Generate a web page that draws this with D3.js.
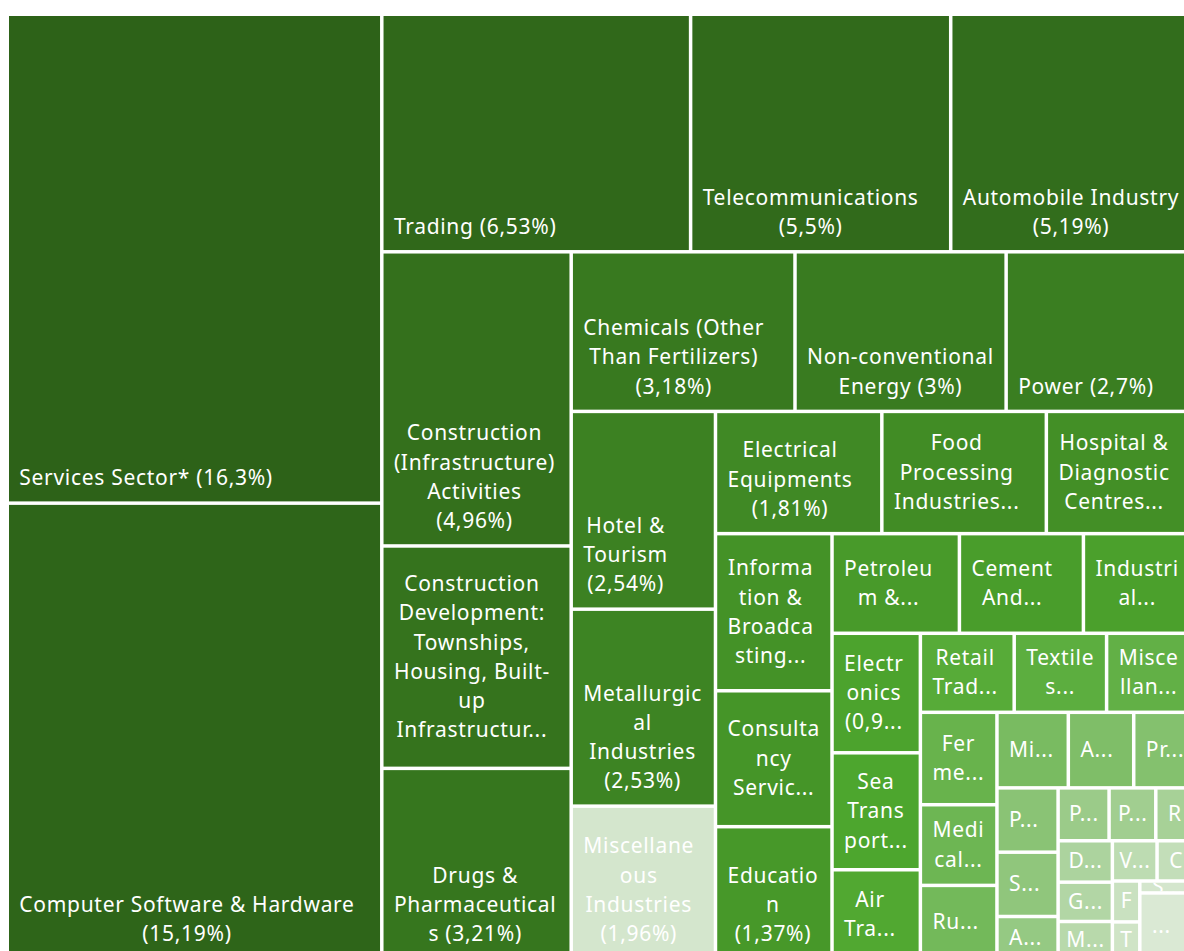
<!DOCTYPE html>
<html>
<head>
<meta charset="utf-8">
<script src="https://cdn.jsdelivr.net/npm/d3@7"></script>
<style>
  body { margin: 0; background: #fff; }
  svg { display: block; }
</style>
</head>
<body>
<svg id="chart"></svg>
<script>
// FDI equity inflows by sector, share of total (%), in the order the treemap lays them out
// ("..." is the remainder Excel shows without a name)
const sectors = [
  "Services Sector*", "Computer Software & Hardware", "Trading", "Telecommunications",
  "Automobile Industry", "Construction (Infrastructure) Activities",
  "Construction Development: Townships, Housing, Built-up Infrastructure and Construction-Development Projects",
  "Drugs & Pharmaceuticals", "Chemicals (Other Than Fertilizers)", "Non-conventional Energy", "Power",
  "Hotel & Tourism", "Metallurgical Industries", "Miscellaneous Industries",
  "Electrical Equipments", "Food Processing Industries", "Hospital & Diagnostic Centres",
  "Information & Broadcasting (Including Print Media)", "Consultancy Services", "Education",
  "Petroleum & Natural Gas", "Cement And Gypsum Products", "Industrial Machinery",
  "Electronics", "Sea Transport", "Air Transport (Including Air Freight)",
  "Retail Trading", "Textiles (Including Dyed, Printed)", "Miscellaneous Mechanical & Engineering Industries",
  "Fermentation Industries", "Medical And Surgical Appliances", "Rubber Goods",
  "Mining", "Agriculture Services", "Prime Mover (Other Than Electrical Generators)",
  "Ports", "Soaps, Cosmetics & Toilet Preparations", "Agricultural Machinery",
  "Paper And Pulp (Including Paper Product)", "Printing Of Books", "Railway Related Components",
  "Diamond, Gold Ornaments", "Glass", "Machine Tools", "Vegetable Oils And Vanaspati",
  "Ceramics", "Fertilizers", "Timber Products", "Sugar", "..."
];
const shares = [
  16.3, 15.19, 6.53, 5.5,
  5.19, 4.96,
  3.75,
  3.21, 3.18, 3, 2.7,
  2.54, 2.53, 1.96,
  1.81, 1.79, 1.63,
  1.63, 1.41, 1.37,
  1.13, 1.1, 1,
  0.94, 0.92, 0.7,
  0.66, 0.65, 0.63,
  0.63, 0.55, 0.5,
  0.48, 0.44, 0.42,
  0.35, 0.35, 0.23,
  0.24, 0.22, 0.19,
  0.2, 0.19, 0.18, 0.16,
  0.14, 0.1, 0.09, 0.06, 0.33
];
// sectors Excel painted in the palest tint
const paleSectors = ["Miscellaneous Industries"];

const W = 1184, H = 951;
const FONT = "'Noto Sans', sans-serif";
const FONT_SIZE = 21;
const LETTER_SP = 0.7;
const LINE_H = 29.25;
const PAD_X = 10;

const svg = d3.select("#chart").attr("width", W).attr("height", H);

const data = sectors.map((name, i) => ({ name, value: shares[i], idx: i }));
const root = d3.hierarchy({ children: data }).sum(d => d.value || 0);

d3.treemap()
  .tile(d3.treemapSquarify.ratio(1))
  .size([1185.4, 941])
  .paddingInner(3.5)(root);

// monochromatic palette: dark shade -> base green -> light tint
const color = d3.scaleLinear()
  .domain([0, (data.length - 1) / 2, data.length - 1])
  .range(["#2d6218", "#4ea72e", "#dae9d4"])
  .interpolate(d3.interpolateRgb);

const fmt = v => String(+v.toFixed(2)).replace(".", ",");

// text measuring
const ctx = document.createElement("canvas").getContext("2d");
ctx.font = `${FONT_SIZE}px ${FONT}`;
const tw = s => ctx.measureText(s).width + s.length * LETTER_SP;

//split into words, allowing a break after a hyphen
function tokenize(text) {
  const out = [];
  text.split(" ").forEach(word => {
    word.split(/(?<=-)/).forEach((p, i) => out.push({ text: p, space: i === 0 }));
  });
  return out;
}

function wrap(text, avail) {
  const lines = [];
  let line = "";
  for (const t of tokenize(text)) {
    const cand = line ? line + (t.space ? " " : "") + t.text : t.text;
    if (tw(cand) <= avail) { line = cand; continue; }
    if (line) lines.push(line);
    let rest = t.text;
    //word longer than the box: break it by characters
    while (tw(rest) > avail && rest.length > 1) {
      let k = rest.length - 1;
      while (k > 1 && tw(rest.slice(0, k)) > avail) k--;
      lines.push(rest.slice(0, k));
      rest = rest.slice(k);
    }
    line = rest;
  }
  if (line) lines.push(line);
  return lines;
}

const g = svg.append("g").attr("transform", "translate(9,16)");

const cell = g.selectAll("g.cell")
  .data(root.leaves())
  .join("g")
  .attr("class", "cell");

cell.append("clipPath")
  .attr("id", (d, i) => "clip" + i)
  .append("rect")
  .attr("x", d => d.x0)
  .attr("y", d => d.y0)
  .attr("width", d => d.x1 - d.x0)
  .attr("height", d => d.y1 - d.y0);

cell.append("rect")
  .attr("x", d => d.x0)
  .attr("y", d => d.y0)
  .attr("width", d => d.x1 - d.x0)
  .attr("height", d => d.y1 - d.y0)
  .attr("fill", d => paleSectors.includes(d.data.name) ? color(data.length - 2) : color(d.data.idx));

cell.each(function (d, i) {
  const w = d.x1 - d.x0, h = d.y1 - d.y0;
  const avail = w - 2 * PAD_X;
  const label = `${d.data.name} (${fmt(d.data.value)}%)`;
  let lines = wrap(label, avail);
  const maxLines = Math.max(1, Math.floor((h - 16) / LINE_H));
  let truncated = false;
  if (lines.length > maxLines) {
    truncated = true;
    lines = lines.slice(0, maxLines);
    let last = lines[maxLines - 1];
    if (!last.endsWith("...")) {
      while (last.length > 1 && tw(last + "...") > avail) last = last.slice(0, -1);
      //too narrow even for one letter and the dots: keep the letter alone
      last = tw(last + "...") > w - 6 ? last : last.trimEnd() + "...";
    }
    lines[maxLines - 1] = last;
  }
  const n = lines.length;
  const blockW = d3.max(lines, tw);
  const cx = blockW > avail ? (d.x0 + d.x1) / 2 : d.x0 + PAD_X + blockW / 2;
  const firstCenter = truncated
    ? (d.y0 + d.y1) / 2 - (n - 1) / 2 * LINE_H
    : d.y1 - 23 - (n - 1) * LINE_H;

  d3.select(this).append("text")
    .attr("clip-path", `url(#clip${i})`)
    .attr("fill", "#fff")
    .style("font-family", FONT)
    .style("font-size", FONT_SIZE + "px")
    .style("letter-spacing", LETTER_SP + "px")
    .attr("text-anchor", "middle")
    .selectAll("tspan")
    .data(lines)
    .join("tspan")
    .attr("x", cx + LETTER_SP / 2)
    .attr("y", (s, k) => firstCenter + k * LINE_H + 7)
    .text(s => s);
});
</script>
</body>
</html>
